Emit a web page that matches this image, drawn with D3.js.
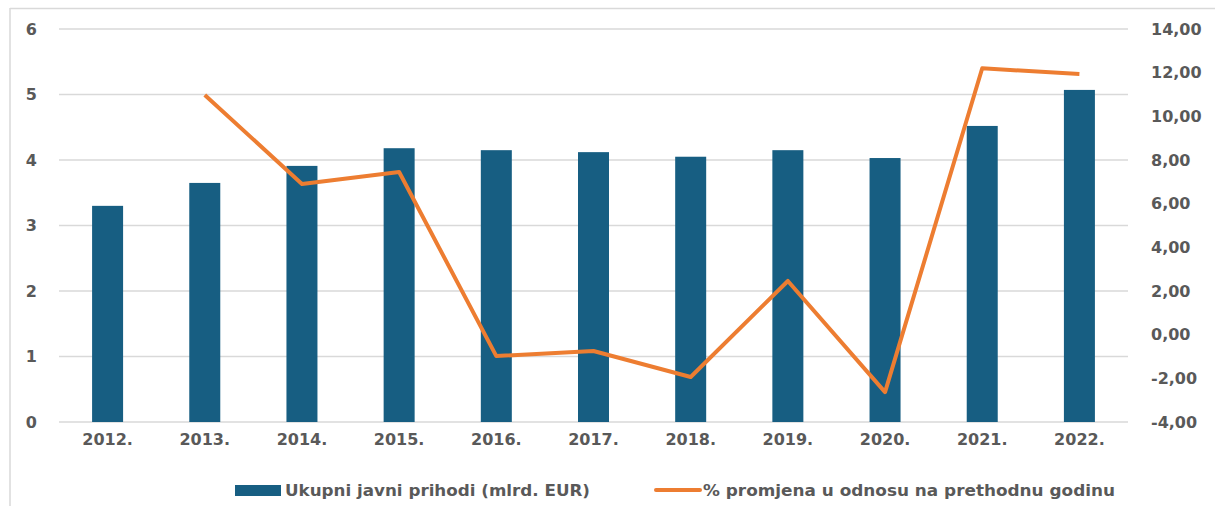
<!DOCTYPE html>
<html>
<head>
<meta charset="utf-8">
<script src="https://cdn.jsdelivr.net/npm/d3@7"></script>
<style>
  html, body { margin: 0; padding: 0; background: #fff; }
  svg { display: block; }
</style>
</head>
<body>
<svg id="chart" width="1215" height="506"></svg>
<script>
// ---- data ----
const years = ["2012.", "2013.", "2014.", "2015.", "2016.", "2017.", "2018.", "2019.", "2020.", "2021.", "2022."];
const revenue = [3.30, 3.65, 3.91, 4.18, 4.15, 4.12, 4.05, 4.15, 4.03, 4.52, 5.07];
const pctChange = [null, 10.98, 6.90, 7.45, -0.98, -0.75, -1.94, 2.46, -2.63, 12.20, 11.94];
const leftTicks = [0, 1, 2, 3, 4, 5, 6];
const rightTicks = [-4, -2, 0, 2, 4, 6, 8, 10, 12, 14];
const legendLabels = ["Ukupni javni prihodi (mlrd. EUR)", "% promjena u odnosu na prethodnu godinu"];

// ---- layout ----
const svg = d3.select("#chart");
const plotL = 59, plotR = 1128, plotT = 29, plotB = 422;
const barColor = "#175E82", lineColor = "#ED7D31", gridColor = "#D9D9D9", textColor = "#595959";
const axisFont = "'DejaVu Sans', Verdana, sans-serif";

// frame
svg.append("line").attr("x1", 10).attr("x2", 10).attr("y1", 8).attr("y2", 506)
  .attr("stroke", "#D9D9D9").attr("stroke-width", 1.5);
svg.append("line").attr("x1", 10).attr("x2", 1215).attr("y1", 8.5).attr("y2", 8.5)
  .attr("stroke", "#D9D9D9").attr("stroke-width", 1.5);

const x = d3.scaleBand().domain(years).range([plotL, plotR]).padding(0);
const yL = d3.scaleLinear().domain([0, 6]).range([plotB, plotT]);
const yR = d3.scaleLinear().domain([-4, 14]).range([plotB, plotT]);
const barW = 31;

// gridlines
svg.append("g").selectAll("line").data(leftTicks).join("line")
  .attr("x1", plotL).attr("x2", plotR)
  .attr("y1", d => yL(d)).attr("y2", d => yL(d))
  .attr("stroke", gridColor).attr("stroke-width", 1.5);

// bars
svg.append("g").selectAll("rect").data(revenue).join("rect")
  .attr("x", (d, i) => x(years[i]) + x.bandwidth() / 2 - barW / 2)
  .attr("width", barW)
  .attr("y", d => yL(d))
  .attr("height", d => yL(0) - yL(d))
  .attr("fill", barColor);

// line
const line = d3.line()
  .defined(d => d != null)
  .x((d, i) => x(years[i]) + x.bandwidth() / 2)
  .y(d => yR(d));
svg.append("path").datum(pctChange)
  .attr("d", line)
  .attr("fill", "none")
  .attr("stroke", lineColor)
  .attr("stroke-width", 4)
  .attr("stroke-linejoin", "round");

// left axis labels
const leftAxis = d3.axisLeft(yL).tickValues(leftTicks).tickSize(0).tickPadding(0).tickFormat(d3.format("d"));
const gL = svg.append("g").attr("transform", "translate(37,0)").call(leftAxis);
gL.select(".domain").remove();
gL.selectAll("text").attr("font-family", axisFont).attr("font-weight", "bold")
  .attr("font-size", 16).attr("fill", textColor);

// right axis labels
const fmtR = d => d3.format(".2f")(d).replace(".", ",").replace("−", "-");
const rightAxis = d3.axisRight(yR).tickValues(rightTicks).tickSize(0).tickPadding(0).tickFormat(fmtR);
const gR = svg.append("g").attr("transform", "translate(1151,0)").call(rightAxis);
gR.select(".domain").remove();
gR.selectAll("text").attr("font-family", axisFont).attr("font-weight", "bold")
  .attr("font-size", 16).attr("fill", textColor);

// x axis labels
const xAxis = d3.axisBottom(x).tickSize(0).tickPadding(0);
const gX = svg.append("g").attr("transform", `translate(0,${plotB + 12})`).call(xAxis);
gX.select(".domain").remove();
gX.selectAll("text").attr("font-family", axisFont).attr("font-weight", "bold")
  .attr("font-size", 16).attr("fill", textColor);

// legend
const leg = svg.append("g");
leg.append("rect").attr("x", 235).attr("y", 485).attr("width", 46).attr("height", 11).attr("fill", barColor);
leg.append("text").attr("x", 285).attr("y", 496)
  .attr("font-family", axisFont).attr("font-weight", "bold").attr("font-size", 15).attr("fill", textColor)
  .attr("textLength", 305).attr("lengthAdjust", "spacingAndGlyphs")
  .text(legendLabels[0]);
leg.append("line").attr("x1", 656).attr("x2", 700).attr("y1", 490).attr("y2", 490)
  .attr("stroke", lineColor).attr("stroke-width", 4).attr("stroke-linecap", "round");
leg.append("text").attr("x", 703).attr("y", 496)
  .attr("font-family", axisFont).attr("font-weight", "bold").attr("font-size", 15).attr("fill", textColor)
  .attr("textLength", 412).attr("lengthAdjust", "spacingAndGlyphs")
  .text(legendLabels[1]);
</script>
</body>
</html>
